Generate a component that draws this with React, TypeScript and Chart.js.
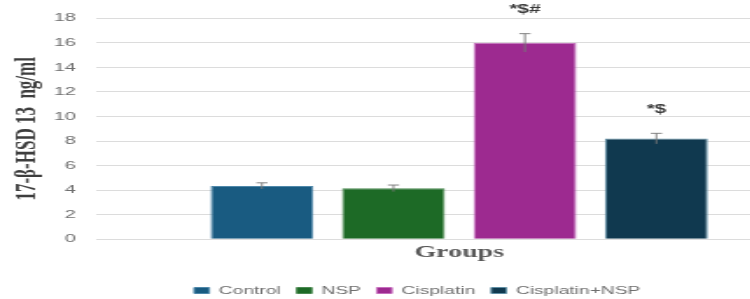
import React, { useEffect, useRef } from 'react';
import { Chart, registerables } from 'chart.js';

Chart.register(...registerables);

// ---- data ----
const groups = ['Control', 'NSP', 'Cisplatin', 'Cisplatin+NSP'];
const means = [4.35, 4.15, 16.0, 8.2];
const errors = [0.25, 0.27, 0.75, 0.43];
const marks = ['', '', '*$#', '*$'];
const categoryLabels = [''];
const yMin = 0;
const yMax = 18;
const yStep = 2;
const yTitle = '17-β-HSD 13  ng/ml';
const xTitle = 'Groups';

// ---- styles ----
const fills = ['#195b81', '#1d6a26', '#9d2a90', '#10394f'];
const edges = ['#4f88aa', '#4c8a52', '#c66fbe', '#5f8ea4'];

const INTERNAL_W = 478;
const INTERNAL_H = 299;
const CSS_W = 836;

const errorBarPlugin = {
  id: 'errorBars',
  afterDatasetsDraw(chart: any) {
    const ctx = chart.ctx;
    const yScale = chart.scales.y;
    chart.data.datasets.forEach((_ds: any, i: number) => {
      const meta = chart.getDatasetMeta(i);
      const bar = meta.data[0];
      if (!bar) return;
      const x = bar.x;
      const top = yScale.getPixelForValue(means[i] + errors[i]);
      const bot = yScale.getPixelForValue(means[i] - errors[i]);
      ctx.save();
      ctx.strokeStyle = 'rgba(120,120,120,0.9)';
      ctx.lineWidth = 1;
      ctx.beginPath();
      ctx.moveTo(x, top);
      ctx.lineTo(x, bot);
      ctx.moveTo(x - 3.2, top);
      ctx.lineTo(x + 3.2, top);
      ctx.stroke();
      if (marks[i]) {
        ctx.font = 'bold 12px "Liberation Sans", Arial, sans-serif';
        ctx.fillStyle = '#3a3a3a';
        ctx.textAlign = 'center';
        ctx.textBaseline = 'middle';
        ctx.fillText(marks[i], x, top - 24);
      }
      ctx.restore();
    });
  },
};

export default function App() {
  const ref = useRef<HTMLCanvasElement | null>(null);

  useEffect(() => {
    const canvas = ref.current;
    if (!canvas) return;
    const chart = new Chart(canvas, {
      type: 'bar',
      data: {
        labels: categoryLabels,
        datasets: groups.map((g, i) => ({
          label: g,
          data: [means[i]],
          backgroundColor: fills[i],
          borderColor: edges[i],
          borderWidth: 1,
          categoryPercentage: 0.724,
          barPercentage: 0.783,
        })),
      },
      options: {
        responsive: false,
        animation: false,
        events: [],
        layout: { padding: { left: 7, right: 7.8, top: 17.7, bottom: -7 } },
        plugins: {
          legend: {
            position: 'bottom',
            labels: {
              boxWidth: 8.6,
              boxHeight: 6,
              padding: 9.1,
              color: '#6f6f6f',
              font: { family: '"Liberation Sans", Arial, sans-serif', size: 11 },
            },
          },
          tooltip: { enabled: false },
        },
        scales: {
          x: {
            grid: { display: false, drawTicks: false },
            border: { display: false },
            ticks: { display: false },
            title: {
              display: true,
              text: xTitle,
              color: '#595959',
              font: { family: '"Liberation Serif", "Times New Roman", serif', size: 16, weight: 'bold', lineHeight: 1.2 },
              padding: { top: 3.7, bottom: 13.7 },
            },
          },
          y: {
            min: yMin,
            max: yMax,
            ticks: {
              stepSize: yStep,
              padding: 11.4,
              color: '#6f6f6f',
              font: { family: '"Liberation Sans", Arial, sans-serif', size: 11.5 },
            },
            grid: { color: '#dcdcdc', lineWidth: 1, drawTicks: false },
            border: { display: false },
            title: {
              display: true,
              text: yTitle,
              color: '#3d3d3d',
              font: { family: '"Liberation Serif", "Times New Roman", serif', size: 17, weight: 'bold', lineHeight: 1 },
              padding: { top: 0, bottom: 0 },
            },
            afterFit: (s: any) => {
              s.width = 47.9;
            },
          },
        },
      },
      plugins: [errorBarPlugin],
    } as any);
    canvas.style.width = CSS_W + 'px';
    canvas.style.height = INTERNAL_H + 'px';
    return () => chart.destroy();
  }, []);

  return (
    <div
      style={{
        position: 'fixed',
        left: 0,
        top: 0,
        width: 750,
        height: 299,
        overflow: 'hidden',
        background: '#ffffff',
      }}
    >
      <canvas
        ref={ref}
        width={INTERNAL_W}
        height={INTERNAL_H}
        style={{ width: CSS_W + 'px', height: INTERNAL_H + 'px', display: 'block' }}
      />
    </div>
  );
}
